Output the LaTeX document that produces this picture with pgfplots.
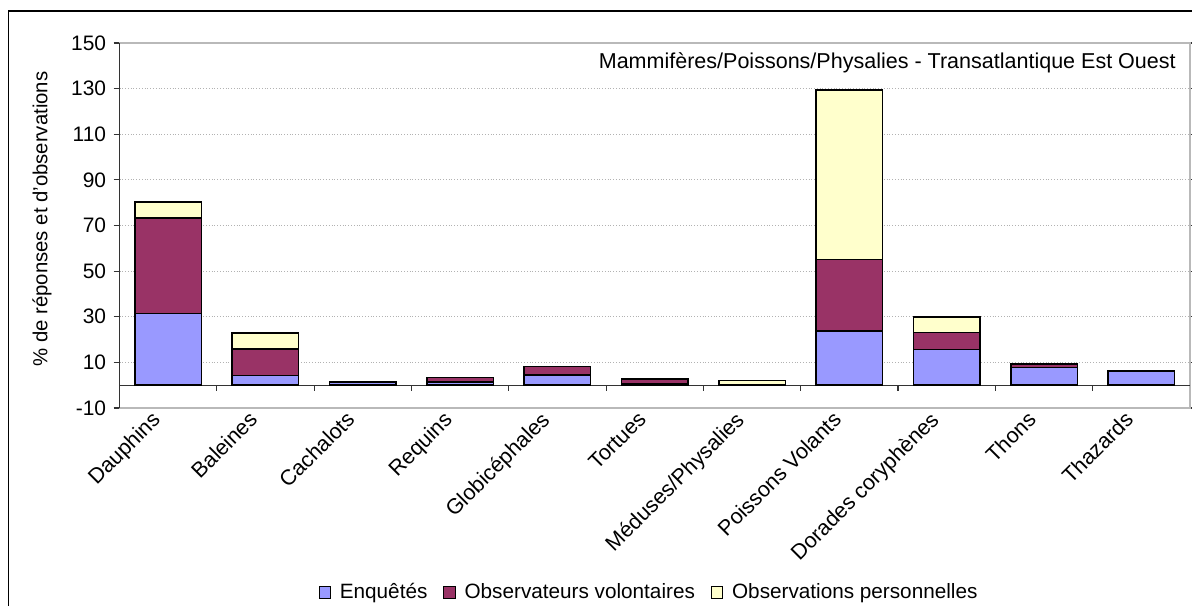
\documentclass[border=0pt]{standalone}
\usepackage{pgfplots}
\pgfplotsset{compat=1.18}
\usepackage{fontspec}
\setmainfont{Liberation Sans}
\definecolor{cEnq}{HTML}{9999FF}
\definecolor{cObs}{HTML}{993366}
\definecolor{cPer}{HTML}{FFFFCC}
\begin{document}
\begin{tikzpicture}[x=1bp,y=1bp]
\useasboundingbox (0,0) rectangle (596,-303);
% outer chart frame (cropped at right and bottom)
\draw[black, line width=0.8bp] (4.25,-303) -- (4.25,-5.5) -- (596,-5.5);
\begin{axis}[
  at={(59.75bp,-21.5bp)}, anchor=north west,
  scale only axis, width=535.25bp, height=182.5bp,
  xmin=-0.5, xmax=10.5, ymin=-10, ymax=150,
  ybar stacked, bar width=33.25bp,
  axis line style={gray!55, line width=0.6bp},
  ytick={-10,10,30,50,70,90,110,130,150},
  ymajorgrids, grid style={densely dotted, gray!60, line width=0.5bp},
  tick align=outside, major tick length=3bp,
  ytick style={black!80, line width=0.6bp},
  xtick={0,...,10},
  xtick style={draw=none},
  xticklabels={Dauphins,Baleines,Cachalots,Requins,Globicéphales,Tortues,Méduses/Physalies,Poissons Volants,Dorades coryphènes,Thons,Thazards},
  xticklabel style={rotate=45, anchor=north east, inner sep=0pt, xshift=-4.8bp, yshift=7.9bp, font=\fontsize{10.8}{12}\selectfont},
  yticklabel style={inner sep=0pt, xshift=-3.5bp, font=\fontsize{10.5}{12}\selectfont},
  /pgf/number format/assume math mode=true,
  legend style={at={(rel axis cs:0.4956,-0.5055)}, anchor=center, draw=none, fill=none,
    legend columns=-1, font=\fontsize{10.4}{12}\selectfont,
    /tikz/every odd column/.append style={column sep=2.5bp},
    /tikz/every even column/.append style={column sep=6bp}},
  legend image code/.code={\draw[#1, line width=0.5bp] (0bp,-2.8bp) rectangle (5.6bp,2.8bp);},
  clip=false,
]
\addplot[fill=cEnq, draw=black, line width=0.75bp] coordinates {
 (0,31.5) (1,4.3) (2,1.5) (3,1.3) (4,4.5) (5,0.8) (6,0) (7,23.8) (8,15.7) (9,7.8) (10,6.2)};
\addplot[fill=cObs, draw=black, line width=0.75bp] coordinates {
 (0,41.7) (1,11.6) (2,0) (3,2.0) (4,3.6) (5,1.9) (6,0) (7,31.4) (8,7.3) (9,1.6) (10,0)};
\addplot[fill=cPer, draw=black, line width=0.75bp] coordinates {
 (0,7.2) (1,6.9) (2,0) (3,0) (4,0) (5,0) (6,2.1) (7,74.3) (8,6.9) (9,0) (10,0)};
\legend{Enquêtés, Observateurs volontaires, Observations personnelles}
% left axis line dark, x axis line at 0
\draw[black!80, line width=0.7bp] (rel axis cs:0,0) -- (rel axis cs:0,1);
\draw[black!80, line width=0.7bp] (axis cs:-0.5,0) -- (axis cs:10.5,0);
\pgfplotsinvokeforeach{0.5,1.5,2.5,3.5,4.5,5.5,6.5,7.5,8.5,9.5}{
  \draw[black!80, line width=0.6bp] (axis cs:#1,0) -- ([yshift=-3bp]axis cs:#1,0);
}
\node[anchor=east, inner sep=0pt, font=\fontsize{10.8}{12}\selectfont] at (rel axis cs:0.987,0.9452) {Mammifères/Poissons/Physalies - Transatlantique Est Ouest};
\end{axis}
\node[rotate=90, inner sep=0pt, font=\fontsize{10.2}{12}\selectfont] at (21,-109.5) {\% de réponses et d'observations};
\end{tikzpicture}
\end{document}
